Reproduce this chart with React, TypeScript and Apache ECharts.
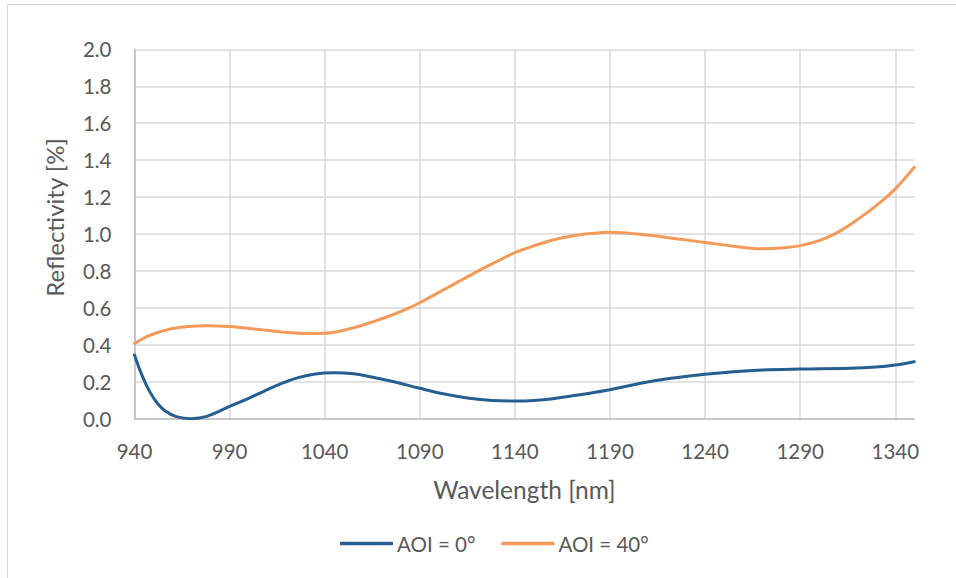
import React, { useEffect, useRef } from "react";
import * as echarts from "echarts";

const wavelengthsAOI0 = [940, 944, 948, 952, 956, 962, 970, 978, 990, 1000, 1008, 1018, 1026, 1035, 1045, 1055, 1064, 1077, 1090, 1103, 1116, 1128, 1140, 1150, 1160, 1175, 1190, 1206, 1222, 1240, 1255, 1270, 1290, 1316, 1330, 1340, 1350];
const valuesAOI0 = [0.346, 0.235, 0.148, 0.085, 0.045, 0.013, 0.002, 0.014, 0.068, 0.112, 0.15, 0.195, 0.224, 0.244, 0.25, 0.245, 0.229, 0.2, 0.166, 0.135, 0.112, 0.1, 0.097, 0.1, 0.11, 0.133, 0.158, 0.193, 0.22, 0.242, 0.256, 0.265, 0.27, 0.274, 0.281, 0.292, 0.31];

const wavelengthsAOI40 = [940, 948, 958, 968, 978, 990, 1000, 1008, 1018, 1028, 1040, 1055, 1065, 1073, 1082, 1090, 1100, 1108, 1117, 1125, 1133, 1140, 1150, 1160, 1170, 1180, 1190, 1200, 1212, 1225, 1240, 1255, 1270, 1280, 1290, 1300, 1308, 1316, 1325, 1333, 1340, 1350];
const valuesAOI40 = [0.408, 0.452, 0.485, 0.5, 0.505, 0.5, 0.49, 0.481, 0.47, 0.463, 0.464, 0.493, 0.525, 0.553, 0.59, 0.629, 0.685, 0.73, 0.78, 0.824, 0.865, 0.9, 0.937, 0.968, 0.99, 1.003, 1.01, 1.005, 0.993, 0.975, 0.955, 0.935, 0.921, 0.925, 0.938, 0.965, 1.0, 1.05, 1.115, 1.18, 1.245, 1.362];

const seriesNames = ["AOI = 0°", "AOI = 40°"];
const xTitle = "Wavelength [nm]";
const yTitle = "Reflectivity [%]";

const FONT = "Lato, 'Open Sans', sans-serif";
const TEXT = "#595959";

export default function App() {
  const ref = useRef<HTMLDivElement>(null);
  useEffect(() => {
    if (!ref.current) return;
    const chart = echarts.init(ref.current, undefined, { renderer: "svg" });
    const pairs = (xs: number[], ys: number[]) => xs.map((x, i) => [x, ys[i]]);
    chart.setOption({
      animation: false,
      backgroundColor: "#ffffff",
      textStyle: { fontFamily: FONT, color: TEXT },
      grid: { left: 134.5, top: 49.3, right: 41.7, bottom: 159, containLabel: false },
      graphic: [
        {
          type: "rect",
          z: -10,
          shape: { x: 7.5, y: 4.5, width: 1000, height: 700 },
          style: { fill: "none", stroke: "#d9d9d9", lineWidth: 1 },
        },
        {
          type: "text",
          x: 54,
          y: 217.5,
          rotation: Math.PI / 2,
          style: {
            text: yTitle,
            font: `24px ${FONT}`,
            fill: TEXT,
            align: "center",
            verticalAlign: "middle",
          },
        },
      ],
      legend: {
        left: 335,
        top: 528,
        icon: "roundRect",
        itemWidth: 53,
        itemHeight: 3.5,
        itemGap: 26,
        textStyle: { fontFamily: FONT, fontSize: 20.5, color: TEXT, padding: [0, 0, 0, -1] },
        data: seriesNames,
      },
      xAxis: {
        type: "value",
        min: 940,
        max: 1350,
        interval: 50,
        name: xTitle,
        nameLocation: "middle",
        nameGap: 58,
        nameTextStyle: { fontFamily: FONT, fontSize: 24.5, color: TEXT },
        axisLine: { show: true, lineStyle: { color: "#bfbfbf", width: 1.5 } },
        axisTick: { show: false },
        axisLabel: {
          showMaxLabel: false,
          margin: 21,
          fontSize: 20.5,
          color: TEXT,
          fontFamily: FONT,
          formatter: (v: number) => String(v),
        },
        splitLine: { show: true, showMaxLine: false, lineStyle: { color: "#d9d9d9", width: 1.5 } },
      },
      yAxis: {
        type: "value",
        min: 0,
        max: 2,
        interval: 0.2,
        axisLine: { show: true, lineStyle: { color: "#bfbfbf", width: 1.5 } },
        axisTick: { show: false },
        axisLabel: {
          margin: 23,
          fontSize: 20.5,
          color: TEXT,
          fontFamily: FONT,
          formatter: (v: number) => v.toFixed(1),
        },
        splitLine: { show: true, lineStyle: { color: "#d9d9d9", width: 1.5 } },
      },
      series: [
        {
          name: seriesNames[0],
          type: "line",
          data: pairs(wavelengthsAOI0, valuesAOI0),
          smooth: 0.4,
          symbol: "none",
          lineStyle: { color: "#255e91", width: 3, cap: "round" },
          itemStyle: { color: "#255e91" },
        },
        {
          name: seriesNames[1],
          type: "line",
          data: pairs(wavelengthsAOI40, valuesAOI40),
          smooth: 0.4,
          symbol: "none",
          lineStyle: { color: "#f3995a", width: 3, cap: "round" },
          itemStyle: { color: "#f3995a" },
        },
      ],
    });
    return () => chart.dispose();
  }, []);
  return (
    <div
      ref={ref}
      style={{ position: "fixed", left: 0, top: 0, width: 956, height: 578 }}
    />
  );
}
